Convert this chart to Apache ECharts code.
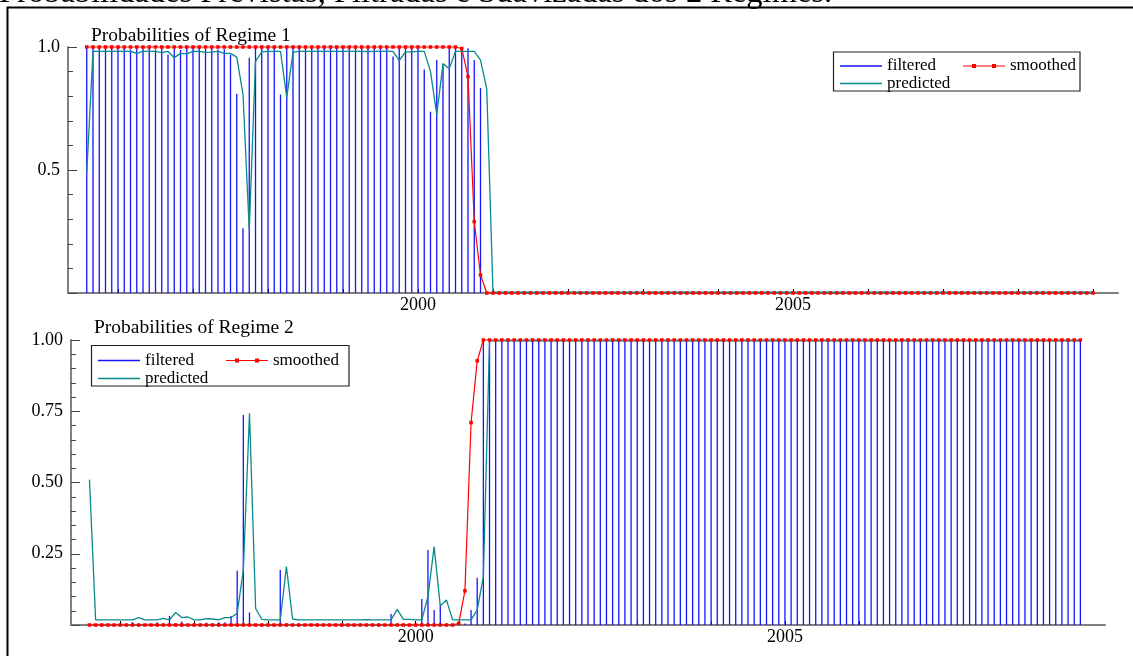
<!DOCTYPE html>
<html>
<head>
<meta charset="utf-8">
<script src="https://cdn.jsdelivr.net/npm/echarts@6/dist/echarts.min.js"></script>
<style>
  html, body { margin: 0; padding: 0; background: #ffffff; }
  #chart { width: 1133px; height: 656px; }
</style>
</head>
<body>
<div id="chart"></div>
<script>
// Monthly sample: 1995(8) .. 2009(1), 162 observations
const startYear = 1995;
const startMonth = 8;

const yearTicks = [1996, 1997, 1998, 1999, 2000, 2001, 2002, 2003, 2004, 2005, 2006, 2007, 2008, 2009];
const yearLabels = [2000, 2005];

const mainTitle = 'Probabilidades Previstas, Filtradas e Suavizadas dos 2 Regimes.';
const panelTitles = ['Probabilities of Regime 1', 'Probabilities of Regime 2'];
const seriesNames = ['filtered', 'smoothed', 'predicted'];

// ---- Regime 1 ----
const filtered1 = [
  1, 0.997, 0.997, 0.998, 0.997, 0.998, 0.997, 0.990, 0.997, 0.998,
  0.997, 0.990, 0.996, 0.968, 0.994, 0.988, 0.997, 0.997, 0.996, 0.992,
  0.997, 0.990, 0.991, 0.968, 0.810, 0.263, 0.956, 0.996, 0.997, 0.997,
  0.997, 0.807, 0.995, 0.997, 0.997, 0.997, 0.997, 0.997, 0.997, 0.997,
  0.997, 0.997, 0.997, 0.997, 0.997, 0.997, 0.997, 0.997, 0.997, 0.961,
  0.996, 0.997, 0.997, 0.997, 0.909, 0.737, 0.947, 0.930, 0.996, 0.997,
  0.997, 0.995, 0.947, 0.834, 0,
  0, 0, 0, 0, 0, 0, 0, 0, 0, 0,
  0, 0, 0, 0, 0, 0, 0, 0, 0, 0,
  0, 0, 0, 0, 0, 0, 0, 0, 0, 0,
  0, 0, 0, 0, 0, 0, 0, 0, 0, 0,
  0, 0, 0, 0, 0, 0, 0, 0, 0, 0,
  0, 0, 0, 0, 0, 0, 0, 0, 0, 0,
  0, 0, 0, 0, 0, 0, 0, 0, 0, 0,
  0, 0, 0, 0, 0, 0, 0, 0, 0, 0,
  0, 0, 0, 0, 0, 0, 0, 0, 0, 0,
  0, 0, 0, 0, 0, 0, 0
];
const smoothed1 = [
  1, 1, 1, 1, 1, 1, 1, 1, 1, 1,
  1, 1, 1, 1, 1, 1, 1, 1, 1, 1,
  1, 1, 1, 1, 1, 1, 1, 1, 1, 1,
  1, 1, 1, 1, 1, 1, 1, 1, 1, 1,
  1, 1, 1, 1, 1, 1, 1, 1, 1, 1,
  1, 1, 1, 1, 1, 1, 1, 1, 1, 1,
  0.994, 0.88, 0.29, 0.073, 0,
  0, 0, 0, 0, 0, 0, 0, 0, 0, 0,
  0, 0, 0, 0, 0, 0, 0, 0, 0, 0,
  0, 0, 0, 0, 0, 0, 0, 0, 0, 0,
  0, 0, 0, 0, 0, 0, 0, 0, 0, 0,
  0, 0, 0, 0, 0, 0, 0, 0, 0, 0,
  0, 0, 0, 0, 0, 0, 0, 0, 0, 0,
  0, 0, 0, 0, 0, 0, 0, 0, 0, 0,
  0, 0, 0, 0, 0, 0, 0, 0, 0, 0,
  0, 0, 0, 0, 0, 0, 0, 0, 0, 0,
  0, 0, 0, 0, 0, 0, 0
];
const predicted1 = [
  0.490, 0.982, 0.982, 0.982, 0.982, 0.982, 0.982, 0.982, 0.974, 0.982,
  0.982, 0.982, 0.977, 0.982, 0.956, 0.974, 0.972, 0.982, 0.982, 0.978,
  0.979, 0.982, 0.974, 0.974, 0.959, 0.807, 0.257, 0.942, 0.980, 0.982,
  0.982, 0.982, 0.795, 0.979, 0.982, 0.982, 0.982, 0.982, 0.982, 0.982,
  0.982, 0.982, 0.982, 0.982, 0.982, 0.981, 0.982, 0.982, 0.982, 0.982,
  0.945, 0.980, 0.980, 0.982, 0.982, 0.900, 0.725, 0.933, 0.912, 0.982,
  0.982, 0.982, 0.982, 0.947, 0.830,
  0.003, 0.003, 0.003, 0.003, 0.003, 0.003, 0.003, 0.003, 0.003, 0.003,
  0.003, 0.003, 0.003, 0.003, 0.003, 0.003, 0.003, 0.003, 0.003, 0.003,
  0.003, 0.003, 0.003, 0.003, 0.003, 0.003, 0.003, 0.003, 0.003, 0.003,
  0.003, 0.003, 0.003, 0.003, 0.003, 0.003, 0.003, 0.003, 0.003, 0.003,
  0.003, 0.003, 0.003, 0.003, 0.003, 0.003, 0.003, 0.003, 0.003, 0.003,
  0.003, 0.003, 0.003, 0.003, 0.003, 0.003, 0.003, 0.003, 0.003, 0.003,
  0.003, 0.003, 0.003, 0.003, 0.003, 0.003, 0.003, 0.003, 0.003, 0.003,
  0.003, 0.003, 0.003, 0.003, 0.003, 0.003, 0.003, 0.003, 0.003, 0.003,
  0.003, 0.003, 0.003, 0.003, 0.003, 0.003, 0.003, 0.003, 0.003, 0.003,
  0.003, 0.003, 0.003, 0.003, 0.003, 0.003, 0.003
];

// ---- Regime 2 ----
const filtered2 = [
  0, 0.003, 0.003, 0.002, 0.003, 0.002, 0.003, 0.010, 0.003, 0.002,
  0.003, 0.010, 0.004, 0.032, 0.006, 0.012, 0.003, 0.003, 0.004, 0.008,
  0.003, 0.010, 0.009, 0.032, 0.190, 0.737, 0.044, 0.004, 0.003, 0.003,
  0.003, 0.193, 0.005, 0.003, 0.003, 0.003, 0.003, 0.003, 0.003, 0.003,
  0.003, 0.003, 0.003, 0.003, 0.003, 0.003, 0.003, 0.003, 0.003, 0.039,
  0.004, 0.003, 0.003, 0.003, 0.091, 0.263, 0.053, 0.070, 0.004, 0.003,
  0.003, 0.005, 0.053, 0.166, 1,
  1, 1, 1, 1, 1, 1, 1, 1, 1, 1,
  1, 1, 1, 1, 1, 1, 1, 1, 1, 1,
  1, 1, 1, 1, 1, 1, 1, 1, 1, 1,
  1, 1, 1, 1, 1, 1, 1, 1, 1, 1,
  1, 1, 1, 1, 1, 1, 1, 1, 1, 1,
  1, 1, 1, 1, 1, 1, 1, 1, 1, 1,
  1, 1, 1, 1, 1, 1, 1, 1, 1, 1,
  1, 1, 1, 1, 1, 1, 1, 1, 1, 1,
  1, 1, 1, 1, 1, 1, 1, 1, 1, 1,
  1, 1, 1, 1, 1, 1, 1
];
const smoothed2 = [
  0, 0, 0, 0, 0, 0, 0, 0, 0, 0,
  0, 0, 0, 0, 0, 0, 0, 0, 0, 0,
  0, 0, 0, 0, 0, 0, 0, 0, 0, 0,
  0, 0, 0, 0, 0, 0, 0, 0, 0, 0,
  0, 0, 0, 0, 0, 0, 0, 0, 0, 0,
  0, 0, 0, 0, 0, 0, 0, 0, 0, 0,
  0.006, 0.12, 0.71, 0.927, 1,
  1, 1, 1, 1, 1, 1, 1, 1, 1, 1,
  1, 1, 1, 1, 1, 1, 1, 1, 1, 1,
  1, 1, 1, 1, 1, 1, 1, 1, 1, 1,
  1, 1, 1, 1, 1, 1, 1, 1, 1, 1,
  1, 1, 1, 1, 1, 1, 1, 1, 1, 1,
  1, 1, 1, 1, 1, 1, 1, 1, 1, 1,
  1, 1, 1, 1, 1, 1, 1, 1, 1, 1,
  1, 1, 1, 1, 1, 1, 1, 1, 1, 1,
  1, 1, 1, 1, 1, 1, 1, 1, 1, 1,
  1, 1, 1, 1, 1, 1, 1
];
const predicted2 = [
  0.510, 0.018, 0.018, 0.018, 0.018, 0.018, 0.018, 0.018, 0.026, 0.018,
  0.018, 0.018, 0.023, 0.018, 0.044, 0.026, 0.028, 0.018, 0.018, 0.022,
  0.021, 0.018, 0.026, 0.026, 0.041, 0.193, 0.743, 0.058, 0.020, 0.018,
  0.018, 0.018, 0.205, 0.021, 0.018, 0.018, 0.018, 0.018, 0.018, 0.018,
  0.018, 0.018, 0.018, 0.018, 0.018, 0.019, 0.018, 0.018, 0.018, 0.018,
  0.055, 0.020, 0.020, 0.018, 0.018, 0.100, 0.275, 0.067, 0.088, 0.018,
  0.018, 0.018, 0.018, 0.053, 0.170,
  0.997, 0.997, 0.997, 0.997, 0.997, 0.997, 0.997, 0.997, 0.997, 0.997,
  0.997, 0.997, 0.997, 0.997, 0.997, 0.997, 0.997, 0.997, 0.997, 0.997,
  0.997, 0.997, 0.997, 0.997, 0.997, 0.997, 0.997, 0.997, 0.997, 0.997,
  0.997, 0.997, 0.997, 0.997, 0.997, 0.997, 0.997, 0.997, 0.997, 0.997,
  0.997, 0.997, 0.997, 0.997, 0.997, 0.997, 0.997, 0.997, 0.997, 0.997,
  0.997, 0.997, 0.997, 0.997, 0.997, 0.997, 0.997, 0.997, 0.997, 0.997,
  0.997, 0.997, 0.997, 0.997, 0.997, 0.997, 0.997, 0.997, 0.997, 0.997,
  0.997, 0.997, 0.997, 0.997, 0.997, 0.997, 0.997, 0.997, 0.997, 0.997,
  0.997, 0.997, 0.997, 0.997, 0.997, 0.997, 0.997, 0.997, 0.997, 0.997,
  0.997, 0.997, 0.997, 0.997, 0.997, 0.997, 0.997
];

const FONT = 'Liberation Serif';
const BLUE = '#1414ff';
const RED = '#ff0000';
const TEAL = '#0a8a8a';
const AXIS_GREY = '#808080';

// time coordinate of each monthly observation (year + fraction)
const timeOf = i => startYear + (startMonth - 1 + i) / 12;
const pairs = arr => arr.map((v, i) => [timeOf(i), v]);

const lineIcon = 'path://M0 0H42V1.5H0Z';
const dotLineIcon = 'path://M0 1.4H42V2.6H0Z M9 0H13V4H9Z M29 0H33V4H29Z';
const iconFor = { filtered: lineIcon, smoothed: dotLineIcon, predicted: lineIcon };

function xAxisFor(gridIndex) {
  return {
    type: 'value', gridIndex,
    min: startYear + 4 / 12, max: 2009 + 4 / 12,
    axisLine: { show: true, onZero: false, lineStyle: { color: AXIS_GREY, width: 2 } },
    axisTick: { show: true, inside: true, length: 4, customValues: yearTicks, lineStyle: { color: '#000', width: 1 } },
    axisLabel: { show: true, customValues: yearLabels, formatter: v => String(Math.round(v)),
                 margin: 3, fontFamily: FONT, fontSize: 18, color: '#000' },
    splitLine: { show: false }
  };
}
function yAxisFor(gridIndex, step, digits) {
  return {
    type: 'value', gridIndex, min: 0, max: 1, interval: step,
    axisLine: { show: true, lineStyle: { color: AXIS_GREY, width: 2 } },
    axisTick: { show: true, inside: true, length: 9, lineStyle: { color: '#444', width: 1 } },
    minorTick: { show: true, splitNumber: 5, length: 5, lineStyle: { color: '#444', width: 1 } },
    axisLabel: { formatter: v => (v === 0 ? '' : v.toFixed(digits)), margin: 8,
                 fontFamily: FONT, fontSize: 18, color: '#000' },
    splitLine: { show: false }, minorSplitLine: { show: false }
  };
}
function panelSeries(gridIndex, filtered, smoothed, predicted) {
  return [
    { name: 'filtered', type: 'bar', xAxisIndex: gridIndex, yAxisIndex: gridIndex,
      data: pairs(filtered), barWidth: 1.3, itemStyle: { color: BLUE }, silent: true },
    { name: 'smoothed', type: 'line', xAxisIndex: gridIndex, yAxisIndex: gridIndex,
      data: pairs(smoothed), clip: false, symbol: 'rect', symbolSize: 3.5, showAllSymbol: true,
      itemStyle: { color: RED }, lineStyle: { color: RED, width: 1.2 } },
    { name: 'predicted', type: 'line', xAxisIndex: gridIndex, yAxisIndex: gridIndex,
      data: pairs(predicted), clip: false, symbol: 'none',
      itemStyle: { color: TEAL }, lineStyle: { color: TEAL, width: 1.3 } }
  ];
}
function legendItem(name, left, top) {
  return {
    data: [{ name, icon: iconFor[name] }], left, top, orient: 'horizontal',
    padding: 0, itemWidth: 42, itemHeight: 10, selectedMode: false,
    itemStyle: { borderWidth: 0 },
    textStyle: { fontFamily: FONT, fontSize: 17, color: '#000' }
  };
}

const option = {
  animation: false,
  backgroundColor: '#ffffff',
  grid: [
    { left: 68, right: 15, top: 47, bottom: 363 },
    { left: 71, right: 28, top: 340, bottom: 31 }
  ],
  xAxis: [xAxisFor(0), xAxisFor(1)],
  yAxis: [yAxisFor(0, 0.5, 1), yAxisFor(1, 0.25, 2)],
  legend: [
    legendItem(seriesNames[0], 840, 57.5),
    legendItem(seriesNames[1], 963, 57.5),
    legendItem(seriesNames[2], 840, 75),
    legendItem(seriesNames[0], 98, 352),
    legendItem(seriesNames[1], 226, 352),
    legendItem(seriesNames[2], 98, 370)
  ],
  graphic: [
    { type: 'rect', silent: true, z: 0,
      shape: { x: 7.5, y: 7.5, width: 1200, height: 700 },
      style: { fill: 'none', stroke: '#000', lineWidth: 2 } },
    { type: 'rect', silent: true, z: 5,
      shape: { x: 833.5, y: 52, width: 246.5, height: 39 },
      style: { fill: 'none', stroke: '#222', lineWidth: 1.2 } },
    { type: 'rect', silent: true, z: 5,
      shape: { x: 91.5, y: 345.5, width: 257.5, height: 40.5 },
      style: { fill: 'none', stroke: '#222', lineWidth: 1.2 } },
    { type: 'text', silent: true, z: 5, left: -1, top: -23.5,
      style: { text: mainTitle, font: '32.5px "' + FONT + '"', fill: '#000' } },
    { type: 'text', silent: true, z: 5, left: 91, top: 26,
      style: { text: panelTitles[0], font: '19.5px "' + FONT + '"', fill: '#000' } },
    { type: 'text', silent: true, z: 5, left: 94, top: 318,
      style: { text: panelTitles[1], font: '19.5px "' + FONT + '"', fill: '#000' } }
  ],
  series: [
    ...panelSeries(0, filtered1, smoothed1, predicted1),
    ...panelSeries(1, filtered2, smoothed2, predicted2)
  ]
};

const chart = echarts.init(document.getElementById('chart'), null, { renderer: 'canvas' });
chart.setOption(option);
</script>
</body>
</html>
